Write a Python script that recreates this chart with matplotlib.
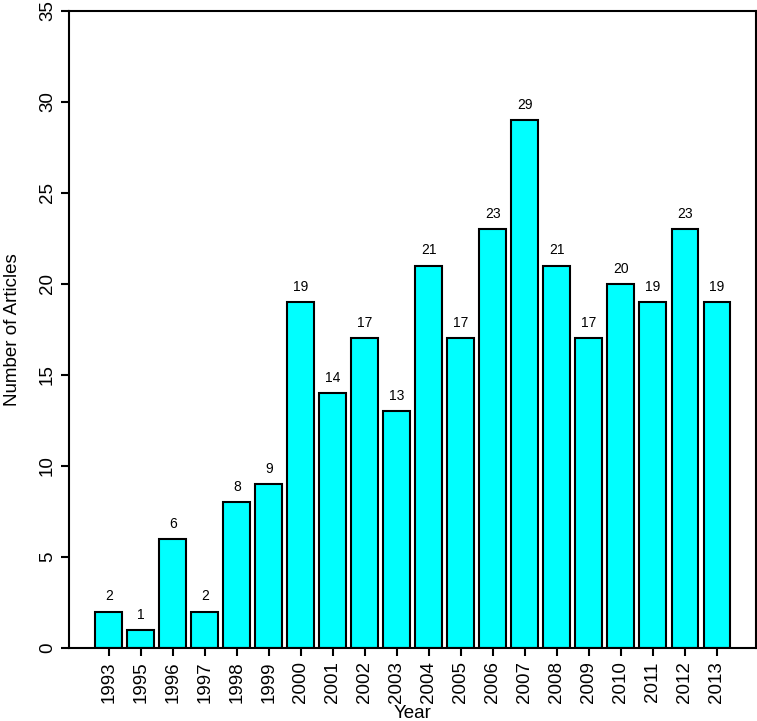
import matplotlib.pyplot as plt

plt.rcParams['font.family'] = ['Liberation Sans', 'DejaVu Sans']

years = ['1993', '1995', '1996', '1997', '1998', '1999', '2000', '2001', '2002', '2003',
         '2004', '2005', '2006', '2007', '2008', '2009', '2010', '2011', '2012', '2013']
articles = [2, 1, 6, 2, 8, 9, 19, 14, 17, 13, 21, 17, 23, 29, 21, 17, 20, 19, 23, 19]

fig = plt.figure(figsize=(7.57, 7.21), dpi=100)
ax = fig.add_axes([0.0912, 0.1012, 0.9075, 0.8842])

pos = list(range(len(years)))
bars = ax.bar(pos, articles, width=0.84, color='#00FFFF', edgecolor='black', linewidth=1.5)

# value labels above each bar
for x, v in zip(pos, articles):
    ax.text(x, v + 0.45, str(v), ha='center', va='bottom', fontsize=10)

ax.set_xlim(-1.24, len(years) - 1 + 1.22)
ax.set_ylim(0, 35)
ax.set_xticks(pos)
ax.set_xticklabels(years, rotation=90, fontsize=13.5)
ax.set_yticks(range(0, 36, 5))
ax.set_yticklabels([str(t) for t in range(0, 36, 5)], rotation=90, va='center', fontsize=13.5)
ax.tick_params(direction='out', length=6, width=1.5)
for s in ax.spines.values():
    s.set_linewidth(1.5)

ax.set_xlabel('Year', fontsize=13.5, labelpad=1.5)
ax.set_ylabel('Number of Articles', fontsize=13.5, labelpad=13)

fig.savefig('out.png', dpi=100)
